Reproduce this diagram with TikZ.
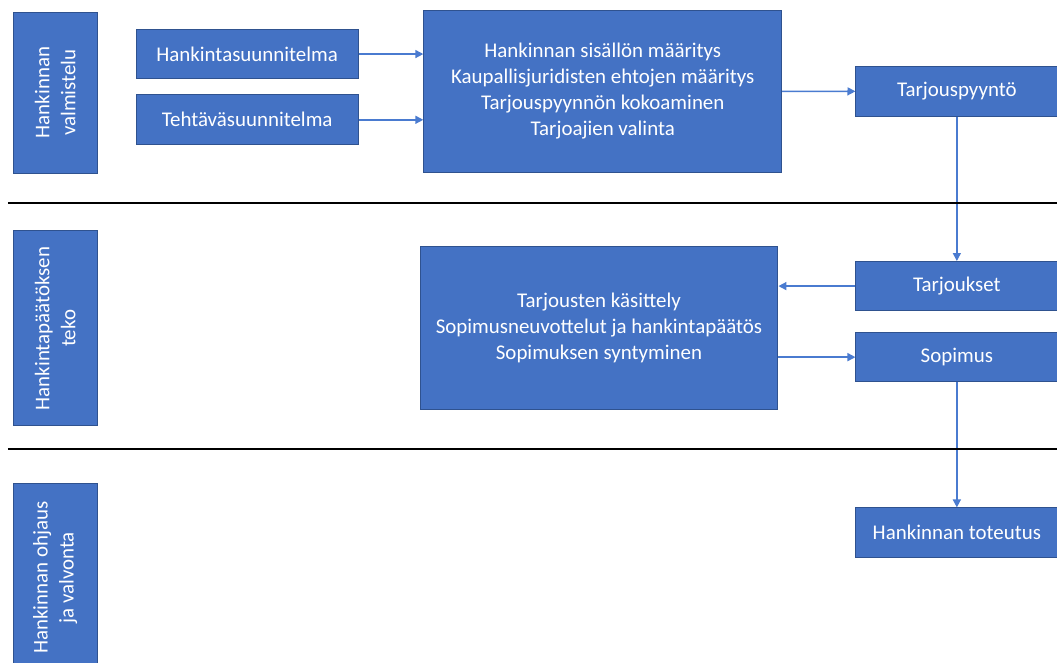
\documentclass[tikz,border=0pt]{standalone}
\usepackage{fontspec}
\setmainfont{Carlito}
\usepackage{tikz}
\usetikzlibrary{arrows.meta}
\definecolor{officeblue}{HTML}{4472C4}
\definecolor{darkblue}{HTML}{2F528F}
\definecolor{arrowblue}{HTML}{4A7BD0}
\tikzstyle{box}=[rectangle,fill=officeblue,draw=darkblue,line width=0.75pt,text=white,align=center,inner sep=0pt,font=\fontsize{15.75}{19.5}\selectfont]
\tikzstyle{lane}=[box,rotate=90,minimum height=2.22cm]
\tikzstyle{task}=[box,minimum width=5.87cm,minimum height=1.32cm]
\tikzstyle{bigtask}=[box,minimum width=9.47cm,minimum height=4.29cm]
\tikzstyle{outcome}=[box,minimum width=5.34cm,minimum height=1.30cm]
\tikzstyle{inarrow}=[->,>={Triangle[length=6pt,width=6pt]},draw=arrowblue,line width=1.1pt]
\tikzstyle{divider}=[-,draw=black,line width=2pt]
\tikzstyle{none}=[inner sep=0pt]
\pgfdeclarelayer{edgelayer}
\pgfdeclarelayer{nodelayer}
\pgfsetlayers{edgelayer,nodelayer,main}

\begin{document}
\begin{tikzpicture}
	\useasboundingbox (0,0) rectangle (27.97,-17.54);
	\begin{pgfonlayer}{nodelayer}
		\node [style=lane, minimum width=4.26cm] (0) at (1.46, -2.45) {Hankinnan\\valmistelu};
		\node [style=task] (1) at (6.54, -1.43) {Hankintasuunnitelma};
		\node [style=task] (2) at (6.54, -3.17) {Tehtäväsuunnitelma};
		\node [style=bigtask] (3) at (15.95, -2.41) {Hankinnan sisällön määritys\\Kaupallisjuridisten ehtojen määritys\\Tarjouspyynnön kokoaminen\\Tarjoajien valinta};
		\node [style=outcome] (4) at (25.32, -2.42) {Tarjouspyyntö};
		\node [style=lane, minimum width=5.16cm] (5) at (1.46, -8.69) {Hankintapäätöksen\\teko};
		\node [style=bigtask] (6) at (15.85, -8.68) {Tarjousten käsittely\\Sopimusneuvottelut ja hankintapäätös\\Sopimuksen syntyminen};
		\node [style=outcome] (7) at (25.32, -7.57) {Tarjoukset};
		\node [style=outcome] (8) at (25.32, -9.45) {Sopimus};
		\node [style=lane, minimum width=4.97cm] (9) at (1.46, -15.29) {Hankinnan ohjaus\\ja valvonta};
		\node [style=outcome] (10) at (25.32, -14.09) {Hankinnan toteutus};
		\node [style=none] (11) at (0.21, -5.37) {};
		\node [style=none] (12) at (27.97, -5.37) {};
		\node [style=none] (13) at (0.21, -11.88) {};
		\node [style=none] (14) at (27.97, -11.88) {};
	\end{pgfonlayer}
	\begin{pgfonlayer}{edgelayer}
		\draw [style=inarrow] (1) to (3.west |- 1);
		\draw [style=inarrow] (2) to (3.west |- 2);
		\draw [style=inarrow] (3) to (4);
		\draw [style=inarrow] (4) to (7);
		\draw [style=inarrow] (7.west) to (6.east |- 7.west);
		\draw [style=inarrow] (6.east |- 8.west) to (8.west);
		\draw [style=inarrow] (8) to (10);
		\draw [style=divider] (11.center) to (12.center);
		\draw [style=divider] (13.center) to (14.center);
	\end{pgfonlayer}
\end{tikzpicture}
\end{document}
